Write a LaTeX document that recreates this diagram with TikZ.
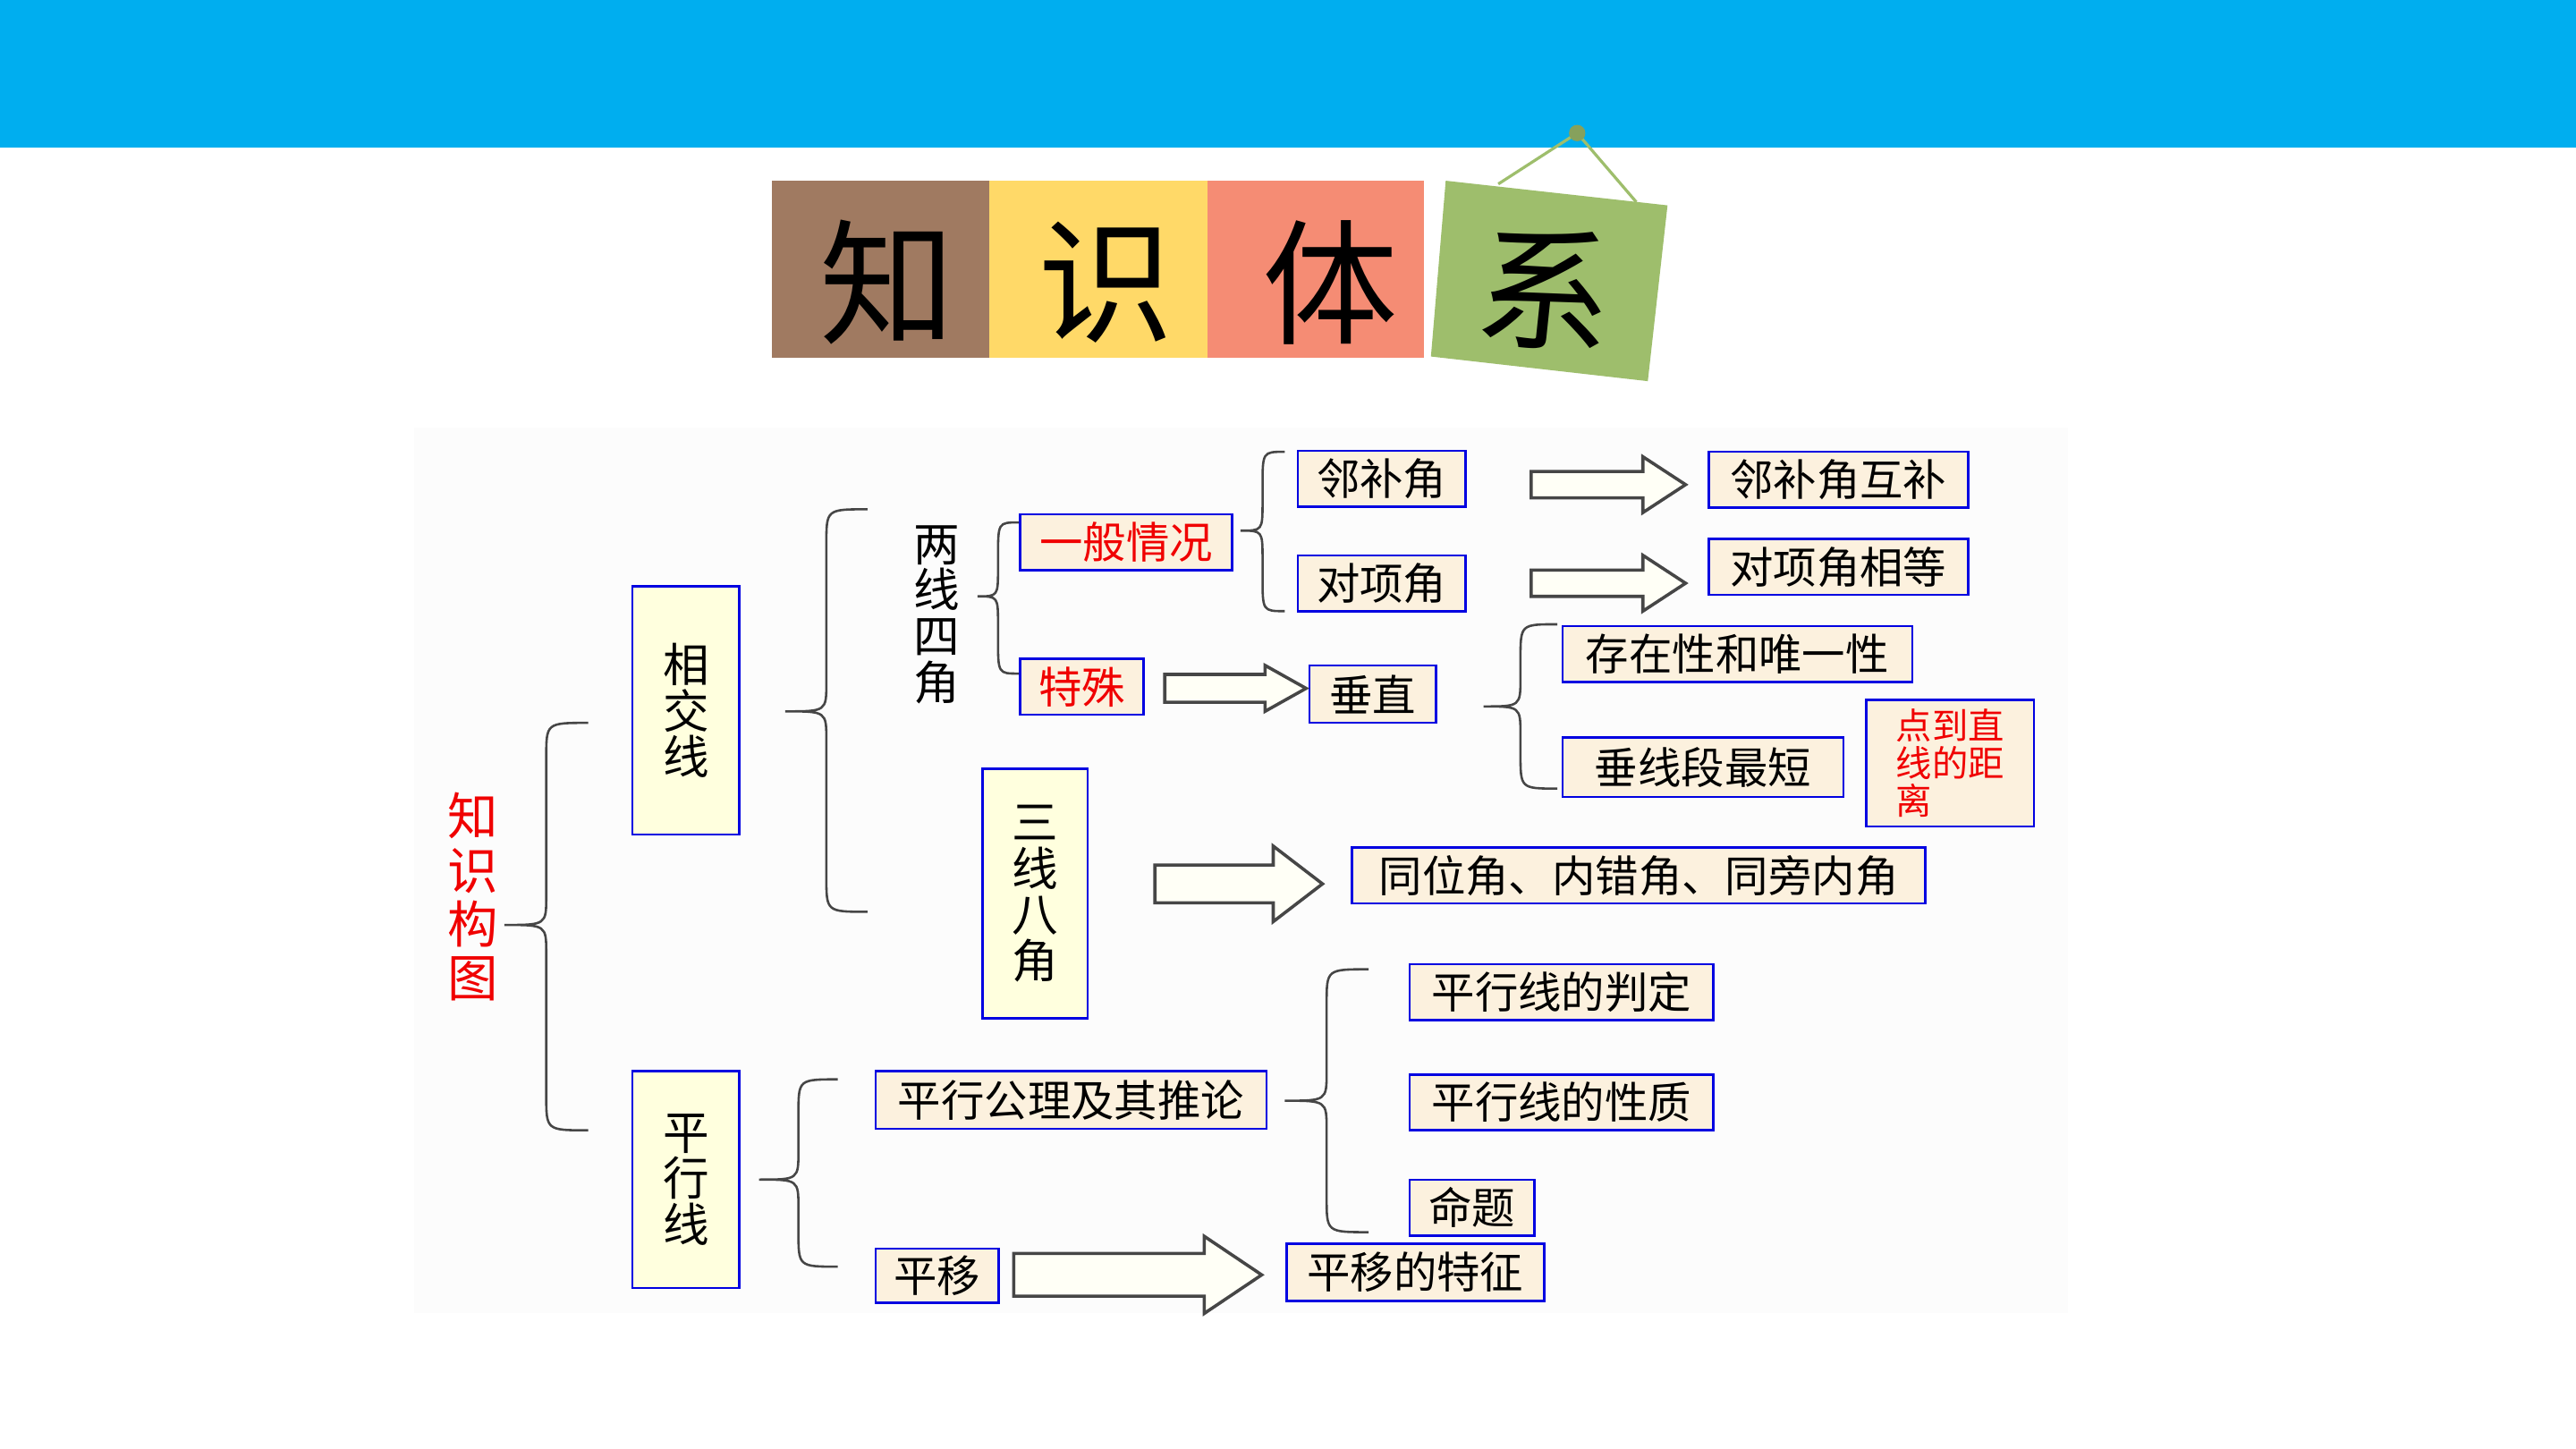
\documentclass[tikz,border=0pt]{standalone}
\usepackage{fontspec}
\setmainfont{Noto Sans CJK SC}
\usetikzlibrary{calc}

\definecolor{banner}{RGB}{0,174,239}
\definecolor{brownish}{RGB}{160,122,97}
\definecolor{sunny}{RGB}{255,217,104}
\definecolor{salmon}{RGB}{245,140,116}
\definecolor{leaf}{RGB}{158,190,108}
\definecolor{boxblue}{RGB}{0,0,225}
\definecolor{cream}{RGB}{252,241,222}
\definecolor{paleyellow}{RGB}{255,255,222}
\definecolor{bracegray}{RGB}{70,70,70}
\definecolor{ivory}{RGB}{255,255,246}
\definecolor{hotred}{RGB}{240,0,0}

\tikzset{
  box/.style={draw=boxblue, line width=0.8pt, fill=cream, minimum height=0.68cm,
    inner sep=0pt, font=\fontsize{15}{18}\selectfont},
  tall/.style={box, fill=paleyellow, align=center, font=\fontsize{16}{16}\selectfont},
  hot/.style={text=hotred},
  headchar/.style={font=\fontsize{47}{47}\selectfont, inner sep=0pt},
  bracepen/.style={draw=bracegray, line width=0.8pt},
  arrowpen/.style={draw=bracegray, fill=ivory, line width=1.1pt, line join=miter},
}

% curly brace: tip, upper end, lower end
\newcommand\curly[3]{%
  \draw[bracepen] let \p1=(#1), \p2=(#2), \p3=(#3) in
    (\p2) .. controls ({(\x1+\x2)/2},\y2) .. ({(\x1+\x2)/2},\y2-12pt)
    -- ({(\x1+\x2)/2},\y1+10pt) .. controls ({(\x1+\x2)/2},\y1) .. (\p1)
    .. controls ({(\x1+\x2)/2},\y1) .. ({(\x1+\x2)/2},\y1-10pt)
    -- ({(\x1+\x2)/2},\y3+12pt) .. controls ({(\x1+\x2)/2},\y3) .. (\p3);}

% hollow block arrow: start, end, shaft half height, head half height, head length
\newcommand\fatarrow[5]{%
  \draw[arrowpen] ($(#1)+(0,-#3)$) -- ($(#2)+(-#5,-#3)$) -- ($(#2)+(-#5,-#4)$) -- (#2)
    -- ($(#2)+(-#5,#4)$) -- ($(#2)+(-#5,#3)$) -- ($(#1)+(0,#3)$) -- cycle;}

\begin{document}
\begin{tikzpicture}[x=0.02cm,y=-0.02cm]
	\useasboundingbox[fill=white] (0,0) rectangle (1568,882);
	\fill[banner] (0,0) rectangle (1568,90);
	\fill[black!1.2] (252,260) rectangle (1259,799);

	% title
	\fill[brownish] (470,110) rectangle (602,218);
	\fill[sunny] (602,110) rectangle (735,218);
	\fill[salmon] (735,110) rectangle (867,218);
	\draw[leaf, line width=1pt] (912,112) -- (960,81) -- (996,123);
	\fill[leaf] (880,110) -- (1015,125) -- (1003,232) -- (871,217) -- cycle;
	\fill[leaf!85!black] (960,81) circle (5);
	\node[headchar] (zhi) at (540,172) {知};
	\node[headchar] (shi) at (673,172) {识};
	\node[headchar] (ti) at (810,172) {体};
	\node[headchar, rotate=-6] (xi) at (941,176) {系};

	% boxes
	\node[hot, align=center, font=\fontsize{17.5}{18.7}\selectfont] (zsgt) at (288,546) {知\\识\\构\\图};
	\node[tall, minimum width=1.3cm, minimum height=3.02cm] (xjx) at (417.5,432.5) {相\\交\\线};
	\node[tall, minimum width=1.3cm, minimum height=2.64cm] (pxx) at (417.5,718) {平\\行\\线};
	\node[align=center, font=\fontsize{16}{16}\selectfont] (lxsj) at (570,374) {两\\线\\四\\角};
	\node[tall, minimum width=1.28cm, minimum height=3.04cm] (sxbj) at (630,544) {三\\线\\八\\角};
	\node[box, hot, minimum width=2.58cm] (ybqk) at (685.5,330) {一般情况};
	\node[box, hot, minimum width=1.5cm] (ts) at (658.5,418) {特殊};
	\node[box, minimum width=2.04cm] (lbj) at (841,291.5) {邻补角};
	\node[box, minimum width=2.04cm] (dxj) at (841,355) {对项角};
	\node[box, minimum width=3.16cm] (lbjhb) at (1119,292) {邻补角互补};
	\node[box, minimum width=3.16cm] (dxjxd) at (1119,345) {对项角相等};
	\node[box, minimum width=1.54cm, minimum height=0.7cm] (cz) at (835.5,422.5) {垂直};
	\node[box, minimum width=4.26cm] (czwy) at (1057.5,398) {存在性和唯一性};
	\node[box, minimum width=3.42cm, minimum height=0.72cm] (cxd) at (1036.5,467) {垂线段最短};
	\node[box, hot, minimum width=2.04cm, minimum height=1.54cm, align=left,
		font=\fontsize{12.5}{13}\selectfont] (djl) at (1187,464.5) {点到直\\线的距\\离};
	\node[box, minimum width=6.98cm] (twj) at (997.5,533) {同位角、内错角、同旁内角};
	\node[box, minimum width=4.76cm, minimum height=0.7cm] (pxgl) at (652,669.5) {平行公理及其推论};
	\node[box, minimum width=3.7cm] (pxpd) at (950.5,604) {平行线的判定};
	\node[box, minimum width=3.7cm] (pxxz) at (950.5,671) {平行线的性质};
	\node[box, minimum width=1.52cm] (mt) at (896,735) {命题};
	\node[box, minimum width=1.5cm, minimum height=0.66cm] (py) at (570.5,776.5) {平移};
	\node[box, minimum width=3.14cm, minimum height=0.7cm] (pytz) at (861.5,774.5) {平移的特征};

	% braces
	\coordinate (zsgt-tip) at (307,563); \coordinate (zsgt-up) at (358,440); \coordinate (zsgt-dn) at (358,688);
	\coordinate (xjx-tip) at (478,433); \coordinate (xjx-up) at (528,310); \coordinate (xjx-dn) at (528,555);
	\coordinate (lxsj-tip) at (595,363); \coordinate (lxsj-up) at (620,318); \coordinate (lxsj-dn) at (620,410);
	\coordinate (ybqk-tip) at (755,323); \coordinate (ybqk-up) at (782,275); \coordinate (ybqk-dn) at (782,372);
	\coordinate (cz-tip) at (903,430); \coordinate (cz-up) at (948,380); \coordinate (cz-dn) at (948,480);
	\coordinate (pxgl-tip) at (782,670); \coordinate (pxgl-up) at (833,590); \coordinate (pxgl-dn) at (833,750);
	\coordinate (pxx-tip) at (462,718); \coordinate (pxx-up) at (510,657); \coordinate (pxx-dn) at (510,771);
	\foreach \b in {zsgt,xjx,lxsj,ybqk,cz,pxgl,pxx}
		\curly{\b-tip}{\b-up}{\b-dn};

	% arrows
	\coordinate (a1s) at (932,295); \coordinate (a1e) at (1026,295);
	\coordinate (a2s) at (932,355); \coordinate (a2e) at (1026,355);
	\coordinate (a3s) at (709,419); \coordinate (a3e) at (795,419);
	\coordinate (a4s) at (703,538); \coordinate (a4e) at (805,538);
	\coordinate (a5s) at (617,776); \coordinate (a5e) at (768,776);
	\fatarrow{a1s}{a1e}{8}{17}{26}
	\fatarrow{a2s}{a2e}{8}{17}{26}
	\fatarrow{a3s}{a3e}{8.5}{14}{25}
	\fatarrow{a4s}{a4e}{11.5}{23}{30}
	\fatarrow{a5s}{a5e}{13}{23.5}{35}
\end{tikzpicture}
\end{document}
